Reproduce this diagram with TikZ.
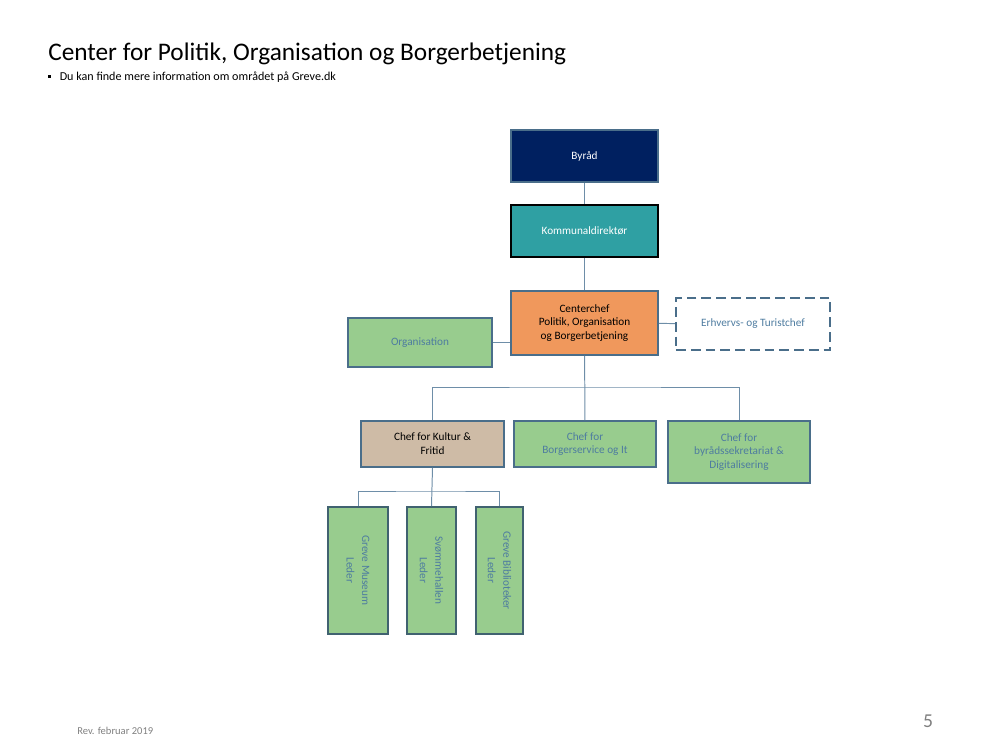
\documentclass[tikz,border=0pt]{standalone}
\usepackage{fontspec}
\setmainfont{Carlito}

\definecolor{navy}{RGB}{0,32,96}
\definecolor{teal}{RGB}{47,160,163}
\definecolor{orangebox}{RGB}{240,152,92}
\definecolor{greenbox}{RGB}{152,204,142}
\definecolor{tanbox}{RGB}{206,187,166}
\definecolor{edge}{RGB}{74,110,138}
\definecolor{leafedge}{RGB}{64,98,112}
\definecolor{textblue}{RGB}{78,124,160}
\definecolor{link}{RGB}{110,142,168}

\begin{document}
\begin{tikzpicture}[
	x=0.025cm, y=-0.025cm,
	box/.style={draw=edge, line width=1.2pt, align=center, inner sep=1pt,
		font=\fontsize{8}{9.8}\selectfont},
	greenunit/.style={box, fill=greenbox, text=textblue},
	leaf/.style={greenunit, draw=leafedge, rotate=-90,
		minimum width=3.175cm, font=\fontsize{8}{11}\selectfont},
	link/.style={draw=link, line width=0.7pt},
]
	\useasboundingbox (0,0) rectangle (1008,756);

	\node [anchor=base west, inner sep=0pt, font=\fontsize{18}{20}\selectfont] (title) at (48,60)
		{Center for Politik, Organisation og Borgerbetjening};
	\node [anchor=base west, font=\fontsize{8.6}{10}\selectfont, inner sep=0pt] (info) at (48,80)
		{\rule[1.6pt]{2.2pt}{2.2pt}\hspace{6pt}Du kan finde mere information om området på Greve.dk};

	\node [box, fill=navy, text=white, minimum width=3.675cm, minimum height=1.3cm] (byraad) at (584.5,156) {Byråd};
	\node [box, fill=teal, text=white, draw=black, line width=1.5pt, minimum width=3.675cm, minimum height=1.3cm] (direktor) at (584.5,231) {Kommunaldirektør};
	\node [box, fill=orangebox, minimum width=3.675cm, minimum height=1.6cm] (centerchef) at (584.5,323)
		{Centerchef\\Politik, Organisation\\og Borgerbetjening};
	\node [box, text=textblue, line width=1.5pt, dash pattern=on 7pt off 3.5pt, minimum width=3.85cm, minimum height=1.3cm] (erhverv) at (753,324) {Erhvervs- og Turistchef};
	\node [greenunit, minimum width=3.6cm, minimum height=1.225cm] (organisation) at (420,342.5) {Organisation};

	\node [box, fill=tanbox, minimum width=3.575cm, minimum height=1.15cm] (kultur) at (432.5,444) {Chef for Kultur \&\\Fritid};
	\node [greenunit, minimum width=3.55cm, minimum height=1.15cm] (borger) at (585,444) {Chef for\\Borgerservice og It};
	\node [greenunit, minimum width=3.55cm, minimum height=1.55cm] (sekretariat) at (739,452) {Chef for\\byrådssekretariat \&\\Digitalisering};

	\node [leaf, minimum height=1.5cm] (museum) at (358,570.5) {Greve Museum\\Leder};
	\node [leaf, minimum height=1.225cm] (svoemme) at (431.5,570.5) {Svømmehallen\\Leder};
	\node [leaf, minimum height=1.175cm] (bibliotek) at (499.5,570.5) {Greve Biblioteker\\Leder};

	\coordinate (split) at (584.5,387);
	\coordinate (kultursplit) at (432.5,491);

	\draw [link] (byraad) -- (direktor);
	\draw [link] (direktor) -- (centerchef);
	\draw [link] (centerchef) -- (erhverv);
	\draw [link] (organisation.east) -- (organisation.east -| centerchef.west);
	\draw [link] (centerchef) -- (borger);
	\draw [link] (kultur.north) |- (split) -| (sekretariat.north);
	\draw [link] (kultur.south) -- (svoemme.west);
	\draw [link] (museum.west) |- (kultursplit) -| (bibliotek.west);

	\node [anchor=base west, inner sep=0pt, text=gray, font=\fontsize{7.5}{9}\selectfont] (rev) at (77,734) {Rev. februar 2019};
	\node [anchor=base, text=gray, font=\fontsize{14}{16}\selectfont] (page) at (928,727) {5};
\end{tikzpicture}
\end{document}
